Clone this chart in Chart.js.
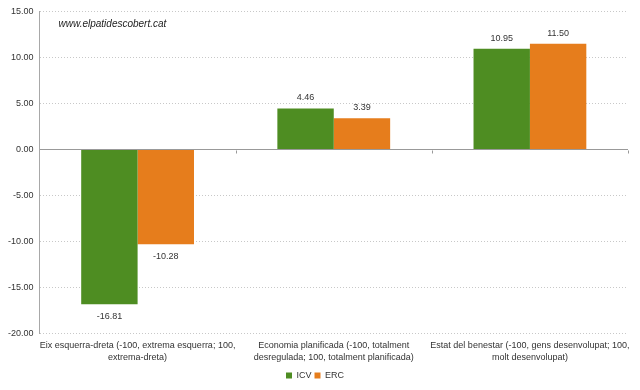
<!DOCTYPE html>
<html>
<head>
<meta charset="utf-8">
<script src="https://cdn.jsdelivr.net/npm/chart.js@4"></script>
<style>
  html, body { margin: 0; padding: 0; background: #fff; }
  #wrap { width: 640px; height: 390px; position: relative; }
</style>
</head>
<body>
<div id="wrap"><canvas id="ideologyChart"></canvas></div>
<script>
// categories (two-line labels) and series values
const categories = [
  ['Eix esquerra-dreta (-100, extrema esquerra; 100,', 'extrema-dreta)'],
  ['Economia planificada (-100, totalment', 'desregulada; 100, totalment planificada)'],
  ['Estat del benestar (-100, gens desenvolupat; 100,', 'molt desenvolupat)']
];
const icvValues = [-16.81, 4.46, 10.95];
const ercValues = [-10.28, 3.39, 11.50];
const yMin = -20;
const yMax = 15;
const yStep = 5;
const watermark = 'www.elpatidescobert.cat';

const FONT = '"Liberation Sans", Arial, sans-serif';

// value labels above / below each bar, watermark, zero line ticks
const extrasPlugin = {
  id: 'extras',
  afterDatasetsDraw(chart) {
    const ctx = chart.ctx;
    const area = chart.chartArea;
    const xs = chart.scales.x;
    const ys = chart.scales.y;
    ctx.save();

    // small ticks on the zero line between categories
    const zeroY = Math.round(ys.getPixelForValue(0)) + 0.5;
    ctx.strokeStyle = '#999';
    ctx.lineWidth = 1;
    ctx.beginPath();
    for (let i = 1; i <= categories.length; i++) {
      let px;
      if (i === categories.length) px = area.right;
      else px = (xs.getPixelForValue(i - 1) + xs.getPixelForValue(i)) / 2;
      px = Math.round(px) + 0.5;
      ctx.moveTo(px, zeroY);
      ctx.lineTo(px, zeroY + 3);
    }
    ctx.stroke();

    // value labels
    ctx.font = '9px ' + FONT;
    ctx.fillStyle = '#333';
    ctx.textAlign = 'center';
    chart.data.datasets.forEach((ds, di) => {
      const meta = chart.getDatasetMeta(di);
      meta.data.forEach((bar, i) => {
        const v = ds.data[i];
        if (v >= 0) {
          ctx.textBaseline = 'bottom';
          ctx.fillText(v.toFixed(2), bar.x, bar.y - 6);
        } else {
          ctx.textBaseline = 'top';
          ctx.fillText(v.toFixed(2), bar.x, bar.y + 8);
        }
      });
    });

    // watermark
    ctx.font = 'italic 10px ' + FONT;
    ctx.fillStyle = '#222';
    ctx.textAlign = 'left';
    ctx.textBaseline = 'middle';
    ctx.fillText(watermark, area.left + 19, area.top + 13);
    ctx.restore();
  }
};

const el = document.getElementById('ideologyChart');
new Chart(el.getContext('2d'), {
  type: 'bar',
  data: {
    labels: categories,
    datasets: [
      {
        label: 'ICV',
        data: icvValues,
        backgroundColor: '#4e8d22',
        borderWidth: 0,
        categoryPercentage: 0.575,
        barPercentage: 1.0
      },
      {
        label: 'ERC',
        data: ercValues,
        backgroundColor: '#e67d1c',
        borderWidth: 0,
        categoryPercentage: 0.575,
        barPercentage: 1.0
      }
    ]
  },
  options: {
    responsive: true,
    maintainAspectRatio: false,
    animation: false,
    layout: {
      padding: { top: 10, right: 12, left: 2, bottom: 0 }
    },
    plugins: {
      legend: {
        position: 'bottom',
        labels: {
          boxWidth: 6,
          boxHeight: 6,
          padding: 3,
          color: '#333',
          font: { family: FONT, size: 9 }
        }
      },
      tooltip: { enabled: false }
    },
    scales: {
      x: {
        grid: { display: false, drawTicks: false, tickLength: 0 },
        border: { display: false },
        afterFit: scale => { scale.height -= 2; },
        ticks: {
          color: '#333',
          padding: 6,
          maxRotation: 0,
          autoSkip: false,
          font: { family: FONT, size: 9, lineHeight: 1.35 }
        }
      },
      y: {
        min: yMin,
        max: yMax,
        grid: {
          drawTicks: false,
          color: ctx => (ctx.tick && ctx.tick.value === 0 ? '#999' : '#c8c8c8'),
          lineWidth: 1
        },
        border: {
          display: true,
          color: '#a8a8a8',
          width: 1,
          dash: ctx => (ctx.tick && ctx.tick.value === 0 ? [] : [1, 2])
        },
        ticks: {
          stepSize: yStep,
          padding: 6,
          color: '#333',
          font: { family: FONT, size: 9 },
          callback: v => Number(v).toFixed(2)
        }
      }
    }
  },
  plugins: [extrasPlugin]
});
</script>
</body>
</html>
